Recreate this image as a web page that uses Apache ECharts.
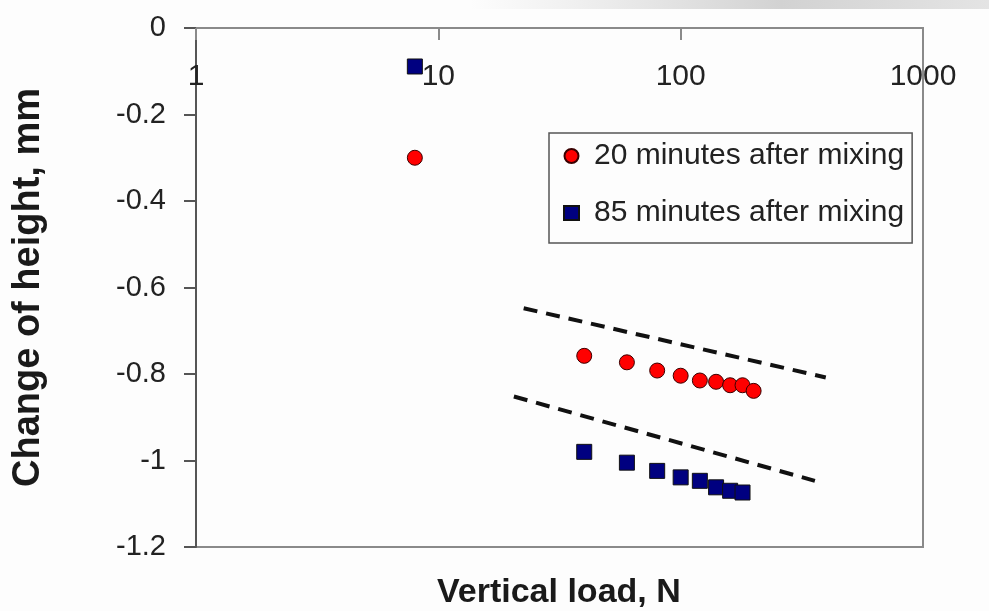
<!DOCTYPE html>
<html>
<head>
<meta charset="utf-8">
<script src="https://cdn.jsdelivr.net/npm/echarts@6/dist/echarts.min.js"></script>
<style>
  html, body { margin: 0; padding: 0; background: #fdfdfd; }
  #chart { width: 989px; height: 611px; }
</style>
</head>
<body>
<div id="chart"></div>
<script>
// vertical load (N) and change of height (mm)
const load20 = [8, 40, 60, 80, 100, 120, 140, 160, 180, 200]
const height20 = [-0.3, -0.758, -0.773, -0.792, -0.804, -0.815, -0.818, -0.826, -0.826, -0.839]
const load85 = [8, 40, 60, 80, 100, 120, 140, 160, 180]
const height85 = [-0.089, -0.98, -1.005, -1.024, -1.039, -1.047, -1.062, -1.07, -1.074]

// dashed guide lines (end points)
const guideLoadUpper = [22.5, 397]
const guideHeightUpper = [-0.648, -0.808]
const guideLoadLower = [20.5, 358]
const guideHeightLower = [-0.852, -1.047]

const xTicks = [1, 10, 100, 1000]
const yTicks = [0, -0.2, -0.4, -0.6, -0.8, -1, -1.2]

const zip = (xs, ys) => xs.map((x, i) => [x, ys[i]])
const font = 'Liberation Sans, Arial, sans-serif'

const chart = echarts.init(document.getElementById('chart'))

const guideStyle = { color: '#111', width: 4, type: [14, 9] }

chart.setOption({
  backgroundColor: '#fdfdfd',
  animation: false,
  textStyle: { fontFamily: font },
  grid: {
    left: 196, top: 28, right: 66, bottom: 64,
    outerBoundsMode: 'none',
    containLabel: false,
    show: true, borderColor: '#8a8a8a', borderWidth: 2,
    backgroundColor: 'transparent'
  },
  legend: {
    orient: 'vertical',
    left: 549, top: 133,
    data: ['20 minutes after mixing', '85 minutes after mixing'],
    itemWidth: 15, itemHeight: 14,
    itemGap: 27,
    padding: [8, 8, 15, 14],
    borderColor: '#555', borderWidth: 1.5,
    backgroundColor: '#fdfdfd',
    textStyle: { fontSize: 30, color: '#222', lineHeight: 30, fontFamily: font, padding: [0, 0, 0, 10] }
  },
  xAxis: {
    type: 'log',
    logBase: 10,
    min: xTicks[0],
    max: xTicks[xTicks.length - 1],
    position: 'top',
    axisLine: { onZero: false, lineStyle: { color: '#8a8a8a', width: 2 } },
    axisTick: { inside: true, length: 12, lineStyle: { color: '#8a8a8a', width: 2 } },
    axisLabel: {
      inside: true, margin: 49, verticalAlign: 'middle',
      fontSize: 30, color: '#222', fontFamily: font,
      formatter: v => String(Math.round(v))
    },
    splitLine: { show: false }
  },
  yAxis: {
    type: 'value',
    min: yTicks[yTicks.length - 1],
    max: yTicks[0],
    interval: 0.2,
    name: 'Change of height, mm',
    nameLocation: 'middle',
    nameGap: 148,
    nameTextStyle: { fontSize: 38, fontWeight: 'bold', color: '#1a1a1a', fontFamily: font },
    axisLine: { onZero: false, lineStyle: { color: '#555', width: 2 } },
    axisTick: { length: 12, lineStyle: { color: '#555', width: 2 } },
    axisLabel: {
      margin: 30, fontSize: 29, color: '#222', fontFamily: font,
      formatter: v => String(Math.round(v * 10) / 10)
    },
    splitLine: { show: false }
  },
  graphic: [
    {
      type: 'rect', left: 470, top: 0, z: -1,
      shape: { width: 519, height: 9 },
      style: {
        fill: new echarts.graphic.LinearGradient(0, 0, 1, 0, [
          { offset: 0, color: 'rgba(215,215,215,0)' },
          { offset: 0.6, color: 'rgba(210,210,210,1)' },
          { offset: 1, color: 'rgba(228,228,228,1)' }
        ])
      }
    },
    {
      type: 'text', left: 437, top: 576,
      style: {
        text: 'Vertical load, N',
        fontSize: 34, fontWeight: 'bold', fill: '#1a1a1a', fontFamily: font
      }
    }
  ],
  series: [
    {
      name: 'guide upper', type: 'line', data: zip(guideLoadUpper, guideHeightUpper),
      symbol: 'none', lineStyle: guideStyle, silent: true, z: 1
    },
    {
      name: 'guide lower', type: 'line', data: zip(guideLoadLower, guideHeightLower),
      symbol: 'none', lineStyle: guideStyle, silent: true, z: 1
    },
    {
      name: '20 minutes after mixing', type: 'scatter',
      data: zip(load20, height20),
      symbol: 'circle', symbolSize: 15,
      itemStyle: { color: '#ff0000', borderColor: '#3a0000', borderWidth: 1, opacity: 1 },
      z: 3
    },
    {
      name: '85 minutes after mixing', type: 'scatter',
      data: zip(load85, height85),
      symbol: 'rect', symbolSize: 15,
      itemStyle: { color: '#000080', borderColor: '#111', borderWidth: 1, opacity: 1 },
      z: 3
    }
  ]
})
</script>
</body>
</html>
